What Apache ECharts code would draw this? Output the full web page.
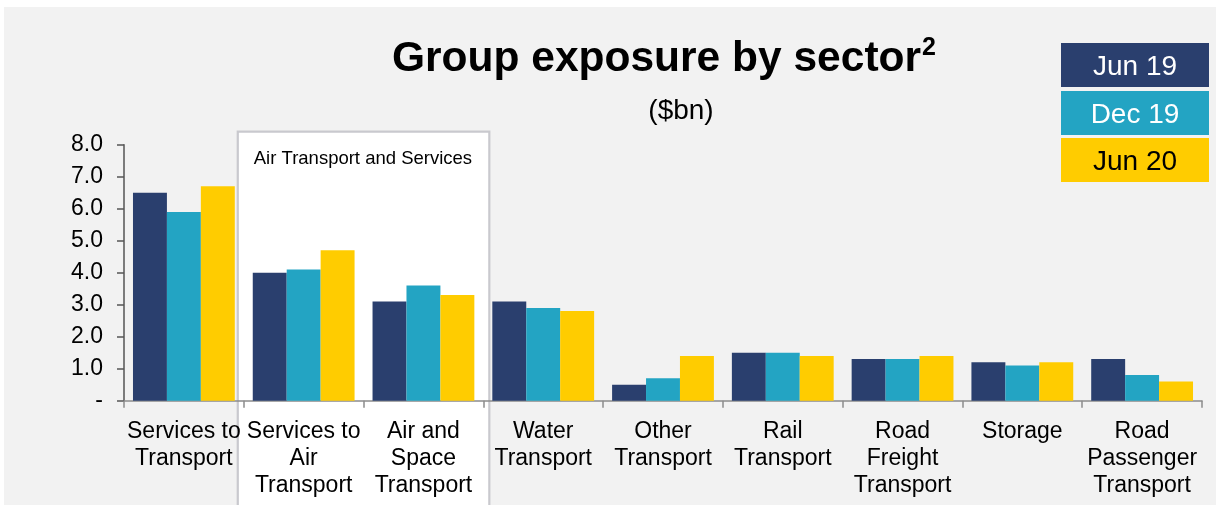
<!DOCTYPE html>
<html>
<head>
<meta charset="utf-8">
<script src="https://cdn.jsdelivr.net/npm/echarts@6/dist/echarts.min.js"></script>
<style>
  html, body { margin: 0; padding: 0; background: #ffffff; }
  #chart { position: absolute; left: 4px; top: 7px; width: 1212px; height: 498px; background: #f2f2f2; }
</style>
</head>
<body>
<div id="chart"></div>
<script>
const categories = [
  'Services to\nTransport',
  'Services to\nAir\nTransport',
  'Air and\nSpace\nTransport',
  'Water\nTransport',
  'Other\nTransport',
  'Rail\nTransport',
  'Road\nFreight\nTransport',
  'Storage',
  'Road\nPassenger\nTransport'
];
const seriesNames = ['Jun 19', 'Dec 19', 'Jun 20'];
const jun19 = [6.5, 4.0, 3.1, 3.1, 0.5, 1.5, 1.3, 1.2, 1.3];
const dec19 = [5.9, 4.1, 3.6, 2.9, 0.7, 1.5, 1.3, 1.1, 0.8];
const jun20 = [6.7, 4.7, 3.3, 2.8, 1.4, 1.4, 1.4, 1.2, 0.6];
const seriesData = [jun19, dec19, jun20];
const colors = ['#2a3f6e', '#23a4c3', '#ffcc00'];
const legendTextColors = ['#ffffff', '#ffffff', '#000000'];
const titleText = 'Group exposure by sector';
const titleSup = '2';
const subtitleText = '($bn)';
const groupLabel = 'Air Transport and Services';
const yMin = 0, yMax = 8, yInterval = 1;

const FONT = '"Liberation Sans", Arial, sans-serif';

const chart = echarts.init(document.getElementById('chart'));

const option = {
  animation: false,
  backgroundColor: '#f2f2f2',
  textStyle: { fontFamily: FONT },
  title: {
    text: '{a|' + titleText + '}{b|' + titleSup + '}',
    left: 383,
    top: 24,
    textStyle: {
      rich: {
        a: { fontFamily: FONT, fontSize: 42.5, fontWeight: 'bold', color: '#000', lineHeight: 46 },
        b: { fontFamily: FONT, fontSize: 25, fontWeight: 'bold', color: '#000', verticalAlign: 'top', lineHeight: 46, padding: [0, 0, 18, 1] }
      }
    }
  },
  grid: { left: 120, right: 14, top: 137.7, bottom: 104.3, containLabel: false },
  xAxis: {
    type: 'category',
    data: categories,
    axisLine: { lineStyle: { color: '#8c8c8c', width: 1.5 } },
    axisTick: { show: true, length: 7, lineStyle: { color: '#8c8c8c', width: 1.5 } },
    axisLabel: {
      interval: 0, hideOverlap: false, color: '#000', fontFamily: FONT,
      fontSize: 23, lineHeight: 27, margin: 17
    }
  },
  yAxis: {
    type: 'value',
    min: yMin, max: yMax, interval: yInterval,
    axisLine: { show: true, lineStyle: { color: '#555555', width: 1.5 } },
    axisTick: { show: true, length: 7, lineStyle: { color: '#555555', width: 1.5 } },
    splitLine: { show: false },
    axisLabel: {
      color: '#000', fontFamily: FONT, fontSize: 23, margin: 21,
      formatter: v => (v === 0 ? '-' : v.toFixed(1))
    }
  },
  series: seriesNames.map((name, i) => ({
    name: name,
    type: 'bar',
    data: seriesData[i],
    barGap: '0%',
    barCategoryGap: '15%',
    itemStyle: { color: colors[i] }
  }))
};
chart.setOption(option);

const c1 = chart.convertToPixel({ xAxisIndex: 0 }, categories[1]);
const c2 = chart.convertToPixel({ xAxisIndex: 0 }, categories[2]);
const band = c2 - c1;
const yTop = chart.convertToPixel({ yAxisIndex: 0 }, yMax);
const boxLeft = c1 - band / 2 - 6;
const boxRight = c2 + band / 2 + 6;
const boxTop = yTop - 13;

const graphics = [
  {
    type: 'rect', id: 'groupBox', z: -1,
    shape: { x: boxLeft, y: boxTop, width: boxRight - boxLeft, height: 600 },
    style: { fill: '#ffffff', stroke: '#c9c9ce', lineWidth: 2.2 }
  },
  {
    type: 'text', id: 'groupLabel', z: 10,
    x: boxLeft + 16, y: boxTop + 27,
    style: { text: groupLabel, fontFamily: FONT, fontSize: 18.5, fill: '#000', align: 'left', verticalAlign: 'middle' }
  },
  {
    type: 'text', id: 'subtitle', z: 10,
    x: 677, y: 104,
    style: { text: subtitleText, fontFamily: FONT, fontSize: 28, fill: '#000', align: 'center', verticalAlign: 'middle' }
  }
];
const lgX = 1057, lgW = 148, lgH = 44, lgYs = [36, 84, 131];
seriesNames.forEach((name, i) => {
  graphics.push({
    type: 'rect', id: 'lg' + i, z: 10,
    shape: { x: lgX, y: lgYs[i], width: lgW, height: lgH },
    style: { fill: colors[i] }
  });
  graphics.push({
    type: 'text', id: 'lgt' + i, z: 11,
    x: lgX + lgW / 2, y: lgYs[i] + lgH / 2 + 2,
    style: { text: name, fontFamily: FONT, fontSize: 28, fill: legendTextColors[i], align: 'center', verticalAlign: 'middle' }
  });
});
chart.setOption({ graphic: graphics });
</script>
</body>
</html>
